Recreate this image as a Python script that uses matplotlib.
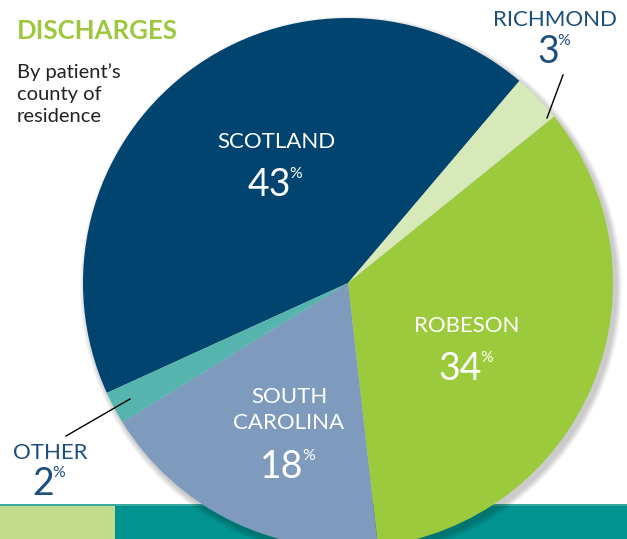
import matplotlib
matplotlib.use("Agg")
import matplotlib.pyplot as plt
from matplotlib.patches import Rectangle, Circle

plt.rcParams['font.family'] = ['Lato', 'DejaVu Sans']

counties = ['SCOTLAND', 'RICHMOND', 'ROBESON', 'SOUTH\nCAROLINA', 'OTHER']
shares = [43, 3, 34, 18, 2]
colors = ['#00446f', '#d7e8b9', '#9bca3c', '#7e9bbe', '#55b5ae']

W, H = 627, 539
fig = plt.figure(figsize=(W / 100, H / 100), dpi=100)
ax = fig.add_axes([0, 0, 1, 1])


def Y(y):
    # image row -> data y
    return H - y


cx, cy, r = 348, Y(283), 265

# soft shadow
for k in range(6):
    ax.add_patch(Circle((cx + 3, cy - 4), r + 6 - k, color='black', alpha=0.035,
                        lw=0, zorder=2))

wedges, _ = ax.pie(shares, colors=colors, startangle=204.5, counterclock=False,
                   center=(cx, cy), radius=r, frame=True,
                   wedgeprops=dict(linewidth=0))
for w in wedges:
    w.set_zorder(3)

# bottom band
ax.add_patch(Rectangle((0, 0), 115, Y(505), color='#c2dc8c', zorder=1, lw=0))
ax.add_patch(Rectangle((115, 0), W - 115, Y(505), color='#00938f', zorder=1, lw=0))
ax.add_patch(Rectangle((0, Y(506)), W, 2, color='#3aa9a2', zorder=1, lw=0))

ax.set_xlim(0, W)
ax.set_ylim(0, H)
ax.set_aspect('equal')
ax.axis('off')

navy = '#1d4f7c'


def label(name, x, y_name, y_num, pct, col, name_size=16, num_size=27):
    ax.text(x, Y(y_name), name, color=col, fontsize=name_size, ha='center',
            va='center', zorder=5, linespacing=1.4)
    t = ax.text(x - 7, Y(y_num), str(pct), color=col, fontsize=num_size,
                ha='center', va='center', zorder=5)
    ax.annotate('%', xy=(1, 0.8), xycoords=t, xytext=(-1, 0),
                textcoords='offset points', color=col, fontsize=num_size * 0.42,
                ha='left', va='center', zorder=5)


label(counties[0], 276, 142, 185, shares[0], 'white')
label(counties[1], 555, 20, 52, shares[1], navy)
label(counties[2], 467, 326, 369, shares[2], 'white')
label(counties[3], 289, 410, 467, shares[3], 'white')
label(counties[4], 50, 453, 484, shares[4], navy)

# leader lines
ax.plot([563, 547], [Y(75), Y(118)], color='black', lw=1, zorder=6)
ax.plot([130, 66], [Y(399), Y(436)], color='black', lw=1, zorder=6)

ax.text(17, Y(31), 'DISCHARGES', color='#9bc83e', fontsize=18.5,
        fontweight='bold', ha='left', va='center', zorder=5)
ax.text(17, Y(94), "By patient’s\ncounty of\nresidence", color='#222222',
        fontsize=14.5, ha='left', va='center', linespacing=1.35, zorder=5)

fig.savefig('out.png', dpi=100)
